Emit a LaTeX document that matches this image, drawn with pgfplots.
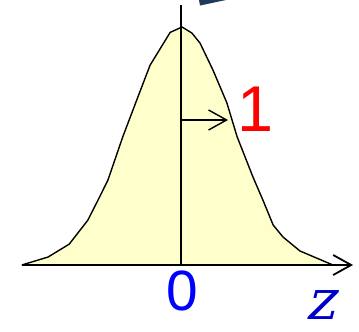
\documentclass[border=0pt]{standalone}
\usepackage{pgfplots}
\pgfplotsset{compat=1.18}
\usepackage{pgfplotstable}
\usepackage{fontspec}
\setmainfont{Liberation Sans}
\newfontfamily\zfont[FakeSlant=0.25]{DejaVu Serif}
\usetikzlibrary{arrows.meta}
\definecolor{curvefill}{HTML}{FFFFCC}
\definecolor{slate}{HTML}{1F3A5C}
\definecolor{zblue}{HTML}{0000CC}

% standard normal curve
\pgfplotstableread{
z d
-3.09 0
-2.58 0.0134
-2.17 0.035
-1.81 0.075
-1.61 0.109
-1.42 0.142
-1.13 0.215
-0.80 0.290
-0.60 0.335
-0.21 0.390
0.02 0.399
0.21 0.389
0.37 0.372
0.62 0.327
0.89 0.272
1.09 0.215
1.40 0.147
1.59 0.109
1.79 0.067
1.98 0.047
2.31 0.0235
2.95 0
}\curve

\begin{document}
\begin{tikzpicture}
\useasboundingbox (-22bp,-67bp) rectangle (337bp,265bp);
\begin{axis}[
  at={(0,0)}, anchor=south west,
  scale only axis, width=331bp, height=260bp,
  xmin=-3.087, xmax=3.340, ymin=0, ymax=0.4359,
  axis lines=middle, axis on top, clip=false,
  x axis line style={-{Straight Barb[length=18bp,width=20bp]}, line width=1.8bp},
  y axis line style={-, line width=1.6bp},
  xtick=\empty, ytick=\empty,
]
\addplot[fill=curvefill, draw=black, line width=1.4bp, line join=round] table {\curve};
\addplot[-{Straight Barb[length=18bp,width=20bp]}, line width=1.4bp] coordinates {(0,0.2431) (0.913,0.2431)};
\addplot[fill=slate, draw=none] coordinates {(0.350,0.4443) (0.874,0.4443) (0.369,0.4350)} -- cycle;
\node[text=red, font=\fontsize{65}{65}\selectfont, inner sep=0pt] at (axis cs:1.447,0.2616) {1};
\node[text=blue, font=\fontsize{57}{57}\selectfont, inner sep=0pt] at (axis cs:0.019,-0.0436) {0};
\node[text=zblue, font=\zfont\fontsize{56}{56}\selectfont, inner sep=0pt] at (axis cs:2.70,-0.067) {z};
\end{axis}
\end{tikzpicture}
\end{document}
